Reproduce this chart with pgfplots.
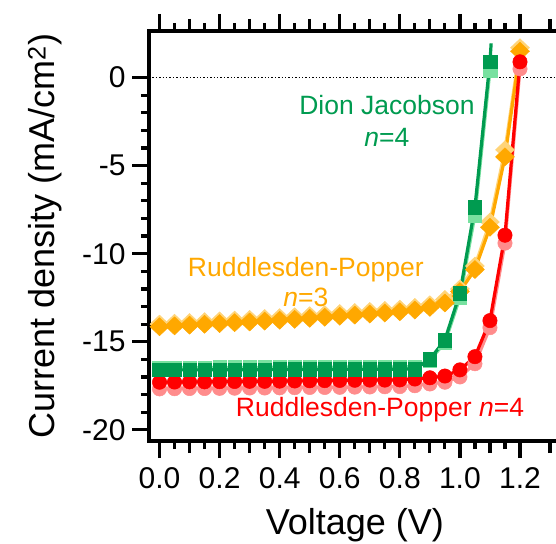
\documentclass[border=0pt]{standalone}
\usepackage{pgfplots}
\pgfplotsset{compat=1.18}
\usepackage{fontspec}
\setmainfont{Liberation Sans}
\setsansfont{Liberation Sans}

\definecolor{djGreen}{RGB}{0,155,80}
\definecolor{djLight}{RGB}{120,225,160}
\definecolor{rpThree}{RGB}{255,168,0}
\definecolor{rpThreeLight}{RGB}{255,212,120}
\definecolor{rpFour}{RGB}{255,0,0}
\definecolor{rpFourLight}{RGB}{255,140,140}

\begin{document}
\begin{tikzpicture}
% the right spine lies beyond this box, as in the cropped original
\useasboundingbox (-149pt,-102pt) rectangle (407pt,441pt);
\begin{axis}[
  scale only axis,
  width=425pt, height=410pt,
  xmin=-0.035, xmax=1.3798,
  ymin=-20.64, ymax=2.65,
  axis line style={line width=3.8pt},
  tick align=outside,
  xtick pos=both, ytick pos=left,
  major tick length=17pt, minor tick length=8pt,
  every tick/.append style={black, line width=3.2pt},
  xtick={0,0.2,0.4,0.6,0.8,1.0,1.2},
  xticklabels={0.0,0.2,0.4,0.6,0.8,1.0,1.2},
  minor x tick num=3,
  extra x ticks={0.1,0.3,0.5,0.7,0.9,1.1,1.3},
  extra x tick labels={},
  extra x tick style={major tick length=12pt},
  ytick={-20,-15,-10,-5,0},
  yticklabels={-20,-15,-10,-5,0},
  minor y tick num=4,
  tick label style={font=\fontsize{30}{30}\selectfont},
  xticklabel style={yshift=-6pt},
  yticklabel style={xshift=-3pt},
  label style={font=\fontsize{36}{36}\selectfont},
  xlabel={Voltage (V)},
  xlabel style={at={([yshift=-84pt]axis description cs:0.4845,0)}, anchor=center},
  ylabel={Current density (mA/cm\textsuperscript{2})},
  ylabel style={at={([xshift=-104pt]axis description cs:0,0.5)}, anchor=center},
  every axis plot/.append style={line width=3.2pt},
]
\draw[black, dotted, line width=1.4pt] (axis cs:-0.035,0) -- (axis cs:1.38,0);

% reverse scans (light)
\addplot[rpThreeLight, mark=diamond*, mark size=9pt, mark options={solid, xscale=1.4, line width=0.5pt}] coordinates {
(0,-14.00) (0.05,-13.95) (0.1,-13.91) (0.15,-13.86) (0.2,-13.82) (0.25,-13.77) (0.3,-13.73) (0.35,-13.68) (0.4,-13.63) (0.45,-13.58) (0.5,-13.52) (0.55,-13.46) (0.6,-13.40) (0.65,-13.34) (0.7,-13.28) (0.75,-13.22) (0.8,-13.15) (0.85,-13.05) (0.9,-12.90) (0.95,-12.60) (1.0,-12.00) (1.05,-10.70) (1.1,-8.20) (1.15,-4.10) (1.2,1.70)};
\addplot[djLight, mark=square*, mark size=6.8pt, mark options={solid, line width=0.5pt}] coordinates {
(0,-16.47) (0.05,-16.47) (0.1,-16.47) (0.15,-16.47) (0.2,-16.46) (0.25,-16.46) (0.3,-16.46) (0.35,-16.46) (0.4,-16.45) (0.45,-16.45) (0.5,-16.45) (0.55,-16.45) (0.6,-16.44) (0.65,-16.44) (0.7,-16.44) (0.75,-16.43) (0.8,-16.43) (0.85,-16.42) (0.9,-16.05) (0.95,-15.05) (1.0,-12.50) (1.05,-7.80) (1.1,0.40)};
\addplot[rpFourLight, mark=*, mark size=7.2pt, mark options={solid, line width=0.5pt}] coordinates {
(0,-17.68) (0.05,-17.67) (0.1,-17.66) (0.15,-17.66) (0.2,-17.65) (0.25,-17.64) (0.3,-17.63) (0.35,-17.63) (0.4,-17.62) (0.45,-17.61) (0.5,-17.60) (0.55,-17.60) (0.6,-17.59) (0.65,-17.58) (0.7,-17.57) (0.75,-17.56) (0.8,-17.55) (0.85,-17.50) (0.9,-17.40) (0.95,-17.30) (1.0,-17.00) (1.05,-16.25) (1.1,-14.20) (1.15,-9.40) (1.2,0.50)};

% forward scans
\addplot[rpThree, mark=diamond*, mark size=9pt, mark options={solid, xscale=1.4, line width=0.5pt}] coordinates {
(0,-14.15) (0.05,-14.10) (0.1,-14.06) (0.15,-14.01) (0.2,-13.97) (0.25,-13.92) (0.3,-13.88) (0.35,-13.83) (0.4,-13.78) (0.45,-13.73) (0.5,-13.67) (0.55,-13.61) (0.6,-13.55) (0.65,-13.49) (0.7,-13.43) (0.75,-13.37) (0.8,-13.30) (0.85,-13.20) (0.9,-13.05) (0.95,-12.80) (1.0,-12.15) (1.05,-10.90) (1.1,-8.50) (1.15,-4.50) (1.2,1.50)};
\addplot[rpThree] coordinates {(1.2,1.50) (1.203,1.80)};
\addplot[rpFour, mark=*, mark size=7.2pt, mark options={solid, line width=0.5pt}] coordinates {
(0,-17.30) (0.05,-17.29) (0.1,-17.28) (0.15,-17.28) (0.2,-17.27) (0.25,-17.26) (0.3,-17.25) (0.35,-17.25) (0.4,-17.24) (0.45,-17.23) (0.5,-17.22) (0.55,-17.21) (0.6,-17.20) (0.65,-17.19) (0.7,-17.18) (0.75,-17.18) (0.8,-17.17) (0.85,-17.12) (0.9,-17.05) (0.95,-16.95) (1.0,-16.60) (1.05,-15.85) (1.1,-13.80) (1.15,-8.95) (1.2,0.90)};
\addplot[rpFour] coordinates {(1.2,0.90) (1.203,1.95)};
\addplot[djGreen, mark=square*, mark size=6.8pt, mark options={solid, line width=0.5pt}] coordinates {
(0,-16.60) (0.05,-16.60) (0.1,-16.60) (0.15,-16.60) (0.2,-16.59) (0.25,-16.59) (0.3,-16.59) (0.35,-16.59) (0.4,-16.58) (0.45,-16.58) (0.5,-16.58) (0.55,-16.58) (0.6,-16.57) (0.65,-16.57) (0.7,-16.57) (0.75,-16.56) (0.8,-16.56) (0.85,-16.55) (0.9,-16.00) (0.95,-14.90) (1.0,-12.25) (1.05,-7.35) (1.1,0.90)};
\addplot[djGreen] coordinates {(1.1,0.90) (1.104,1.95)};

\node[text=djGreen, font=\fontsize{26.5}{32}\selectfont, align=center] at (axis cs:0.757,-2.46) {Dion Jacobson\\\textit{n}=4};
\node[text=rpThree, font=\fontsize{26.5}{30}\selectfont, align=center] at (axis cs:0.487,-11.59) {Ruddlesden-Popper\\\textit{n}=3};
\node[text=rpFour, font=\fontsize{26.5}{30}\selectfont] at (axis cs:0.734,-18.88) {Ruddlesden-Popper \textit{n}=4};
\end{axis}
\end{tikzpicture}
\end{document}
